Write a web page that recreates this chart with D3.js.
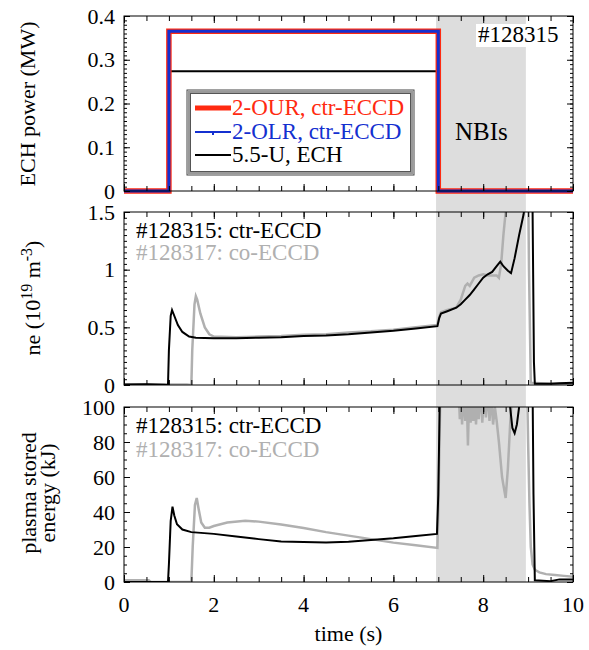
<!DOCTYPE html>
<html><head><meta charset="utf-8">
<script src="https://cdn.jsdelivr.net/npm/d3@7"></script>
<style>
body{margin:0;background:#fff}
svg text{font-family:"Liberation Serif","Times New Roman","DejaVu Serif",serif;}
</style></head><body>
<svg id="c" width="589" height="650"></svg>
<script>
// ---------------- data ----------------
const xTicks = [0, 2, 4, 6, 8, 10];
const echTicks = [0, 0.1, 0.2, 0.3, 0.4];
const neTicks = [0, 0.5, 1, 1.5];
const wTicks = [0, 20, 40, 60, 80, 100];
const nbiWindow = [6.95, 8.95];

// ECH power (MW)
const ech2OUR = [[0,0],[1.0,0],[1.0,0.365],[7.0,0.365],[7.0,0],[10,0]];
const ech2OLR = [[0,0],[1.0,0],[1.0,0.365],[7.0,0.365],[7.0,0],[10,0]];
const ech55U  = [[0,0],[1.0,0],[1.0,0.274],[6.97,0.274],[6.97,0],[10,0]];

// line density (1e19 m^-3)
const neCtr = [[0,0.005],[0.5,0.006],[0.9,0.002],[0.98,0],[1.0,0.3],[1.04,0.6],[1.07,0.65],[1.1,0.62],[1.2,0.52],[1.3,0.46],[1.45,0.42],[1.6,0.41],[2.0,0.405],[2.5,0.405],[3.0,0.41],[3.5,0.415],[4.0,0.425],[4.5,0.43],[5.0,0.44],[5.5,0.455],[6.0,0.47],[6.5,0.49],[6.98,0.51],[7.02,0.58],[7.06,0.62],[7.2,0.64],[7.4,0.67],[7.5,0.7],[7.6,0.74],[7.7,0.78],[7.8,0.83],[7.9,0.88],[8.0,0.93],[8.1,0.96],[8.2,0.98],[8.3,1.03],[8.38,1.07],[8.45,1.03],[8.55,0.99],[8.62,0.97],[8.7,1.1],[8.8,1.3],[8.9,1.48],[9.0,1.8],[9.08,2.0],[9.1,1.5],[9.13,0.2],[9.15,0.01],[9.5,0.01],[9.7,0.015],[10,0.02]];
const neCo = [[0,0.005],[1.4,0.005],[1.5,0],[1.52,0.3],[1.57,0.7],[1.6,0.77],[1.63,0.74],[1.7,0.62],[1.8,0.5],[1.9,0.44],[2.0,0.42],[2.5,0.415],[3.0,0.42],[3.5,0.425],[4.0,0.435],[4.5,0.44],[5.0,0.455],[5.5,0.465],[6.0,0.48],[6.5,0.5],[6.98,0.52],[7.02,0.59],[7.06,0.63],[7.2,0.65],[7.4,0.67],[7.5,0.74],[7.6,0.86],[7.65,0.88],[7.7,0.86],[7.8,0.93],[7.9,0.95],[8.0,0.96],[8.1,0.95],[8.2,0.95],[8.3,0.95],[8.35,0.93],[8.4,1.05],[8.45,1.3],[8.5,1.5],[8.6,1.8],[9.0,1.8],[9.02,1.0],[9.06,0.02],[9.5,0.01],[10,0.01]];

// plasma stored energy (kJ)
const wCtr = [[0,0],[0.98,0],[1.0,10],[1.04,35],[1.08,43],[1.12,38],[1.18,33],[1.3,30],[1.5,28.5],[2.0,27.5],[2.5,26],[3.0,24.5],[3.5,23.2],[4.0,22.8],[4.5,22.6],[5.0,23],[5.5,24],[6.0,25],[6.5,26.3],[6.97,27.5],[7.0,50],[7.03,100],[7.06,110],[8.55,110],[8.6,100],[8.65,88],[8.7,85],[8.75,90],[8.8,100],[8.82,110],[9.1,110],[9.12,50],[9.15,1],[9.5,0.5],[9.7,1.5],[10,1.5]];
const wCo = [[0,1],[0.55,1],[0.6,0],[1.5,0],[1.53,20],[1.58,44],[1.62,48],[1.66,42],[1.72,34],[1.8,31],[1.9,31],[2.0,32],[2.3,34],[2.7,35],[3.0,34.5],[3.5,32.8],[4.0,30.8],[4.5,28.5],[5.0,26.5],[5.5,24.5],[6.0,22.5],[6.5,21],[6.98,19.5],[7.0,40],[7.04,100],[7.08,110],[7.45,110],[7.48,93],[7.5,110],[7.53,90],[7.56,110],[7.6,92],[7.63,110],[7.66,78],[7.69,110],[7.72,91],[7.75,105],[7.78,92],[7.81,110],[7.84,90],[7.87,108],[7.9,93],[7.94,110],[7.98,91],[8.02,108],[8.06,94],[8.1,110],[8.14,92],[8.18,106],[8.22,90],[8.26,100],[8.3,92],[8.35,80],[8.42,60],[8.5,48],[8.55,65],[8.6,90],[8.65,110],[8.98,110],[9.0,80],[9.03,45],[9.06,20],[9.1,10],[9.15,7],[9.25,5.5],[9.4,4.5],[9.6,4],[9.8,3.5],[10,3]];

// ---------------- drawing ----------------
const svg = d3.select("#c");
const L = 124, R = 573;
const GRAY = "#b0b0b0";
const x = d3.scaleLinear().domain([0, 10]).range([L, R]);
const panels = [
  {top: 16, bottom: 191, dom: [0, 0.4], ticks: echTicks, minor: 0.01},
  {top: 212, bottom: 385, dom: [0, 1.5], ticks: neTicks, minor: 0.05},
  {top: 407, bottom: 582, dom: [0, 100], ticks: wTicks, minor: 5}
];
panels.forEach(p => { p.y = d3.scaleLinear().domain(p.dom).range([p.bottom, p.top]); });

svg.append("rect").attr("x", x(nbiWindow[0])).attr("y", panels[0].top)
  .attr("width", x(nbiWindow[1]) - x(nbiWindow[0])).attr("height", panels[2].bottom - panels[0].top)
  .attr("fill", "#dddddd");

const defs = svg.append("defs");
panels.forEach((p, i) => {
  defs.append("clipPath").attr("id", "clip" + i).append("rect")
    .attr("x", L - 3).attr("y", p.top - (i === 0 ? 3 : 0)).attr("width", R - L + 6)
    .attr("height", p.bottom - p.top + (i === 0 ? 6 : 0));
});

const xMinor = d3.range(0, 10.001, 0.5);
function drawAxes(p, i) {
  const g = svg.append("g");
  const minorVals = d3.range(p.dom[0], p.dom[1] + 1e-9, p.minor);
  const ax = (gen, tx, ty, vals, size) => {
    const a = g.append("g").attr("transform", `translate(${tx},${ty})`)
      .call(gen.tickValues(vals).tickSize(size).tickFormat(""));
    a.select(".domain").remove();
    a.selectAll("line").attr("stroke", "#000").attr("stroke-width", 1);
  };
  ax(d3.axisLeft(p.y), L, 0, minorVals, -3);
  ax(d3.axisLeft(p.y), L, 0, p.ticks, -6);
  ax(d3.axisRight(p.y), R, 0, minorVals, -3);
  ax(d3.axisRight(p.y), R, 0, p.ticks, -6);
  ax(d3.axisBottom(x), 0, p.bottom, xMinor, -5);
  ax(d3.axisBottom(x), 0, p.bottom, xTicks, -7);
  ax(d3.axisTop(x), 0, p.top, xMinor, -5);
  ax(d3.axisTop(x), 0, p.top, xTicks, -7);
  g.append("rect").attr("x", L).attr("y", p.top).attr("width", R - L).attr("height", p.bottom - p.top)
    .attr("fill", "none").attr("stroke", "#000").attr("stroke-width", 1);
  g.selectAll("text.yl").data(p.ticks).join("text")
    .attr("x", L - 9).attr("y", d => p.y(d)).attr("dy", "0.35em")
    .attr("text-anchor", "end").attr("font-size", 22).text(d => d);
}

const line = (p) => d3.line().x(d => x(d[0])).y(d => p.y(d[1]));

{
  const p = panels[0];
  const g = svg.append("g").attr("clip-path", "url(#clip0)");
  g.append("path").attr("d", line(p)(ech55U)).attr("fill", "none").attr("stroke", "#000").attr("stroke-width", 2);
  g.append("path").attr("d", line(p)(ech2OUR)).attr("fill", "none").attr("stroke", "#ff2a10").attr("stroke-width", 5.5);
  g.append("path").attr("d", line(p)(ech2OLR)).attr("fill", "none").attr("stroke", "#1430d0").attr("stroke-width", 3);
}
{
  const p = panels[1];
  const g = svg.append("g").attr("clip-path", "url(#clip1)");
  g.append("path").attr("d", line(p)(neCo)).attr("fill", "none").attr("stroke", GRAY).attr("stroke-width", 2.5);
  g.append("path").attr("d", line(p)(neCtr)).attr("fill", "none").attr("stroke", "#000").attr("stroke-width", 2);
}
{
  const p = panels[2];
  const g = svg.append("g").attr("clip-path", "url(#clip2)");
  g.append("path").attr("d", line(p)(wCo)).attr("fill", "none").attr("stroke", GRAY).attr("stroke-width", 2.5);
  g.append("path").attr("d", line(p)(wCtr)).attr("fill", "none").attr("stroke", "#000").attr("stroke-width", 2);
}
panels.forEach(drawAxes);

svg.append("g").selectAll("text").data(xTicks).join("text")
  .attr("x", d => x(d)).attr("y", 612).attr("text-anchor", "middle")
  .attr("font-size", 22).text(d => d);
svg.append("text").attr("x", (L + R) / 2).attr("y", 641).attr("text-anchor", "middle")
  .attr("font-size", 22).text("time (s)");

const yl = (cx, cy, txt) => svg.append("text").attr("transform", `translate(${cx},${cy}) rotate(-90)`)
  .attr("text-anchor", "middle").attr("font-size", 22).text(txt);
yl(35, 104, "ECH power (MW)");
{
  const t = svg.append("text").attr("transform", `translate(40,298) rotate(-90)`)
    .attr("text-anchor", "middle").attr("font-size", 22);
  t.append("tspan").text("ne (10");
  t.append("tspan").attr("dy", -8).attr("font-size", 16).text("19");
  t.append("tspan").attr("dy", 8).text(" m");
  t.append("tspan").attr("dy", -8).attr("font-size", 16).text("-3");
  t.append("tspan").attr("dy", 8).text(")");
}
yl(36, 493, "plasma stored");
yl(55, 493, "energy (kJ)");

svg.append("rect").attr("x", 476).attr("y", 24).attr("width", 84).attr("height", 23).attr("fill", "#fff");
svg.append("text").attr("x", 478).attr("y", 42).attr("font-size", 23).text("#128315");
svg.append("text").attr("x", 455).attr("y", 140).attr("font-size", 25).text("NBIs");

[[238, 260], [433, 457]].forEach(([b1, b2]) => {
  svg.append("text").attr("x", 136).attr("y", b1).attr("font-size", 23).attr("fill", "#000").text("#128315: ctr-ECCD");
  svg.append("text").attr("x", 136).attr("y", b2).attr("font-size", 23).attr("fill", GRAY).text("#128317: co-ECCD");
});

{
  const lg = svg.append("g").attr("font-size", 23);
  lg.append("rect").attr("x", 187).attr("y", 90).attr("width", 227).attr("height", 85).attr("fill", "#fff").attr("stroke", "#444").attr("stroke-width", 1);
  lg.append("rect").attr("x", 189).attr("y", 92).attr("width", 223).attr("height", 81).attr("fill", "none").attr("stroke", "#999").attr("stroke-width", 2.5);
  lg.append("rect").attr("x", 190.5).attr("y", 93.5).attr("width", 220).attr("height", 78).attr("fill", "#fff").attr("stroke", "#555").attr("stroke-width", 1);
  const items = [
    {label: "2-OUR, ctr-ECCD", color: "#ff2a10", w: 5, y: 108},
    {label: "2-OLR, ctr-ECCD", color: "#1430d0", w: 2, y: 132},
    {label: "5.5-U, ECH", color: "#000", w: 2, y: 155}
  ];
  items.forEach(it => {
    lg.append("line").attr("x1", 195).attr("x2", 231).attr("y1", it.y).attr("y2", it.y).attr("stroke", it.color).attr("stroke-width", it.w);
    lg.append("text").attr("x", 232).attr("y", it.y + 7).attr("fill", it.color).text(it.label);
  });
  lg.append("rect").attr("x", 212).attr("y", 131).attr("width", 2).attr("height", 4).attr("fill", "#1430d0");
}
</script></body></html>
